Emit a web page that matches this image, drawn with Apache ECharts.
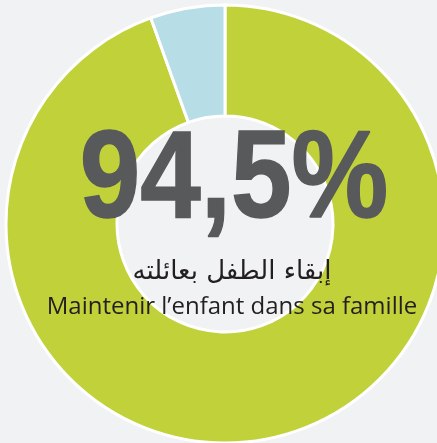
<!DOCTYPE html>
<html>
<head>
<meta charset="utf-8">
<script src="https://cdn.jsdelivr.net/npm/echarts@6/dist/echarts.min.js"></script>
<style>
  html, body { margin: 0; padding: 0; background: #f1f2f4; }
  #chart { width: 437px; height: 443px; }
</style>
</head>
<body>
<div id="chart"></div>
<script>
// share of children kept in their family vs other
const categories = ['Maintenir l’enfant dans sa famille', 'Autre'];
const values = [94.5, 5.5];
const colors = ['#c1d13a', '#b7dde7'];
const bigLabel = '94,5%';
const labelAr = 'إبقاء الطفل بعائلته';
const labelFr = 'Maintenir l’enfant dans sa famille';

const chart = echarts.init(document.querySelector('#chart'));
chart.setOption({
    backgroundColor: '#f1f2f4',
    animation: false,
    series: [{
        type: 'pie',
        z: 1,
        center: [225, 224],
        radius: [108, 219],
        startAngle: 90,
        clockwise: true,
        label: { show: false },
        labelLine: { show: false },
        itemStyle: { borderColor: '#ffffff', borderWidth: 3 },
        emphasis: { disabled: true },
        data: categories.map(function (c, i) {
            return { name: c, value: values[i], itemStyle: { color: colors[i] } };
        })
    }],
    graphic: [
        {
            type: 'text',
            z: 100,
            x: 234,
            y: 183,
            scaleX: 0.87,
            style: {
                text: bigLabel,
                font: 'bold 125px "Liberation Sans"',
                fill: '#58595b',
                stroke: '#58595b',
                lineWidth: 1.5,
                align: 'center',
                verticalAlign: 'middle'
            }
        },
        {
            type: 'text',
            z: 100,
            x: 232,
            y: 272,
            style: {
                text: labelAr,
                font: '26px "DejaVu Sans"',
                fill: '#231f20',
                align: 'center',
                verticalAlign: 'middle'
            }
        },
        {
            type: 'text',
            z: 100,
            x: 232,
            y: 307,
            style: {
                text: labelFr,
                font: '24px "Open Sans"',
                fill: '#231f20',
                align: 'center',
                verticalAlign: 'middle'
            }
        }
    ]
});
</script>
</body>
</html>
